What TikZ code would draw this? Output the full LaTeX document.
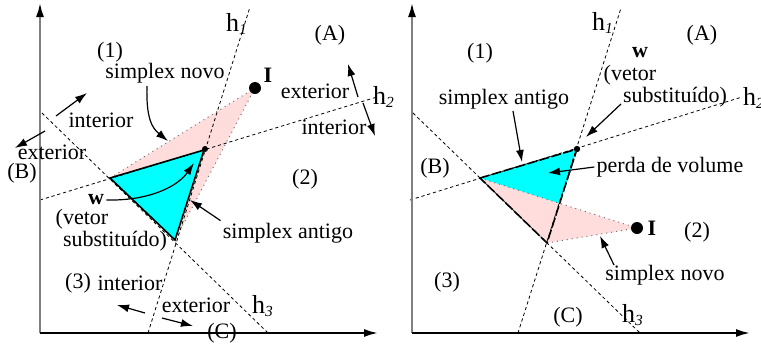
\documentclass[tikz,border=0pt]{standalone}
\usepackage{fontspec}
\setmainfont{Liberation Serif}
\usetikzlibrary{arrows.meta}
\definecolor{novofill}{HTML}{FFDDDD}
\definecolor{antigofill}{HTML}{00FFFF}
\definecolor{eixocor}{HTML}{808080}
\newcommand{\hlab}[1]{{\fontsize{13}{14}\selectfont h}\textsubscript{\textit{#1}}}
\tikzset{
  rotulo/.style={inner sep=1pt, font=\fontsize{11}{12}\selectfont},
  eixo/.style={line width=1pt, -{Latex[length=7pt,width=4pt,color=black]}},
  hiper/.style={line width=0.4pt, dash pattern=on 1.6pt off 1.4pt},
  seta/.style={line width=0.6pt, -{Latex[length=6pt,width=4pt]}},
  novo/.style={draw=black!55, line width=0.5pt, dotted},
  antigo/.style={line width=0.8pt},
  antigotrac/.style={line width=0.8pt, dash pattern=on 5pt off 1.2pt},
}
\begin{document}
\begin{tikzpicture}[x=0.5pt,y=-0.5pt]
  \useasboundingbox (0,0) rectangle (761,343);

  % ---- painel esquerdo ----
  \coordinate (Lo) at (40,333);
  \coordinate (Ly) at (40,3);
  \coordinate (Lx) at (378,333);
  \coordinate (Lw) at (110,178);
  \coordinate (Lt) at (204,150);
  \coordinate (Lb) at (175,240);
  \coordinate (LI) at (255,88);

  \fill[novofill] (Lw) -- (LI) -- (Lb) -- cycle;
  \draw[novo] (Lw) -- (LI) -- (Lb);
  \filldraw[fill=antigofill, antigo] (Lw) -- (Lt) -- (Lb) -- cycle;

  \coordinate (Lh1a) at (148,333); \coordinate (Lh1b) at (250,7);
  \coordinate (Lh2a) at (40,200);  \coordinate (Lh2b) at (377,97);
  \coordinate (Lh3a) at (42,113);  \coordinate (Lh3b) at (268,333);
  \draw[hiper] (Lh1a) -- (Lh1b);
  \draw[hiper] (Lh2a) -- (Lh2b);
  \draw[hiper] (Lh3a) -- (Lh3b);

  \draw[eixo, draw=eixocor] (Lo) -- (Ly);
  \draw[eixo] (Lo) -- (Lx);

  \fill (LI) circle (3pt);
  \fill (205,149) circle (1.5pt);

  \node[rotulo] (Lh1) at (237,24) {\hlab{1}};
  \node[rotulo] (Lh2) at (384,97) {\hlab{2}};
  \node[rotulo] (Lh3) at (263,306) {\hlab{3}};
  \node[rotulo] (LA) at (330,35) {(A)};
  \node[rotulo] (LB) at (22,173) {(B)};
  \node[rotulo] (LC) at (222,333) {(C)};
  \node[rotulo] (L1) at (110,52) {(1)};
  \node[rotulo] (L2) at (305,179) {(2)};
  \node[rotulo] (L3) at (78,283) {(3)};
  \node[rotulo] (LIlab) at (268,75) {\textbf{I}};
  \node[rotulo] (Lnovo) at (165,73) {simplex novo};
  \node[rotulo] (Lantigo) at (288,233) {simplex antigo};
  \node[rotulo] (Lwlab) at (96,200) {\textbf{w}};
  \node[rotulo] (Lvet) at (82,219) {(vetor};
  \node[rotulo] (Lsub) at (115,241) {substituído)};
  \node[rotulo] (Lint1) at (101,120) {interior};
  \node[rotulo] (Lext1) at (52,152) {exterior};
  \node[rotulo] (Lext2) at (315,91) {exterior};
  \node[rotulo] (Lint2) at (334,127) {interior};
  \node[rotulo] (Lint3) at (130,283) {interior};
  \node[rotulo] (Lext3) at (196,305) {exterior};

  \draw[seta] (147,86) .. controls (146,118) and (152,128) .. (168,141);
  \draw[seta] (Lwlab.east) .. controls (150,201) and (178,186) .. (194,163);
  \draw[seta] (Lantigo.north west) -- (190,200);
  \draw[seta] (56,116) -- (87,93);
  \draw[seta] (45,131) -- (15,148);
  \draw[seta] (358,97) -- (348,64);
  \draw[seta] (363,103) -- (375,136);
  \draw[seta] (145,313) -- (117,305);
  \draw[seta] (162,318) -- (193,326);

  % ---- painel direito ----
  \coordinate (Ro) at (412,333);
  \coordinate (Ry) at (412,3);
  \coordinate (Rx) at (750,333);
  \coordinate (Rw) at (480,178);
  \coordinate (Rt) at (577,149);
  \coordinate (Rb) at (547,243);
  \coordinate (RI) at (637,228);
  \coordinate (Rm) at (intersection of Rt--Rb and Rw--RI);

  \fill[novofill] (Rw) -- (RI) -- (Rb) -- cycle;
  \fill[antigofill] (Rw) -- (Rt) -- (Rm) -- cycle;
  \draw[novo] (Rw) -- (RI) -- (Rb);

  \coordinate (Rh1a) at (518,333); \coordinate (Rh1b) at (621,8);
  \coordinate (Rh2a) at (410,200); \coordinate (Rh2b) at (742,97);
  \coordinate (Rh3a) at (413,113); \coordinate (Rh3b) at (640,333);
  \draw[hiper] (Rh1a) -- (Rh1b);
  \draw[hiper] (Rh2a) -- (Rh2b);
  \draw[hiper] (Rh3a) -- (Rh3b);
  \draw[antigotrac] (Rw) -- (Rt) -- (Rb) -- cycle;

  \draw[eixo, draw=eixocor] (Ro) -- (Ry);
  \draw[eixo] (Ro) -- (Rx);

  \fill (RI) circle (3pt);
  \fill (Rt) circle (1.6pt);

  \node[rotulo] (Rh1) at (603,23) {\hlab{1}};
  \node[rotulo] (Rh2) at (754,98) {\hlab{2}};
  \node[rotulo] (Rh3) at (633,315) {\hlab{3}};
  \node[rotulo] (RA) at (702,35) {(A)};
  \node[rotulo] (RB) at (435,168) {(B)};
  \node[rotulo] (RC) at (568,317) {(C)};
  \node[rotulo] (R1) at (480,53) {(1)};
  \node[rotulo] (R2) at (697,232) {(2)};
  \node[rotulo] (R3) at (447,282) {(3)};
  \node[rotulo] (RIlab) at (652,228) {\textbf{I}};
  \node[rotulo] (Rwlab) at (640,53) {\textbf{w}};
  \node[rotulo] (Rvet) at (630,75) {(vetor};
  \node[rotulo] (Rsub) at (675,97) {substituído)};
  \node[rotulo] (Rantigo) at (504,99) {simplex antigo};
  \node[rotulo] (Rperda) at (670,167) {perda de volume};
  \node[rotulo] (Rnovo) at (665,275) {simplex novo};

  \draw[seta] (513,111) -- (522,162);
  \draw[seta] (Rperda.west) -- (548,173);
  \draw[seta] (621,104) -- (586,137);
  \draw[seta] (614,265) -- (600,236);
\end{tikzpicture}
\end{document}
